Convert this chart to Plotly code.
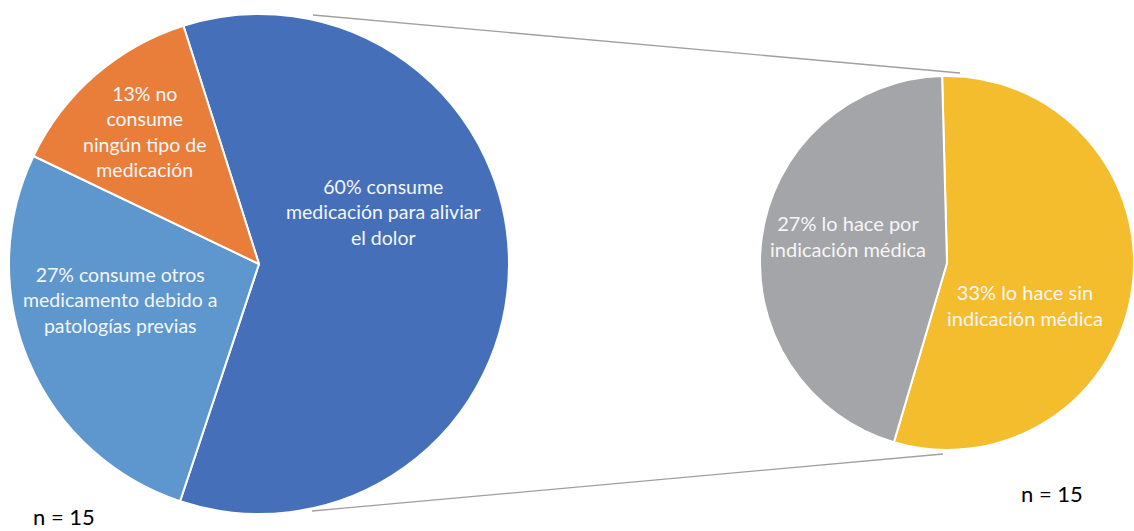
import plotly.graph_objects as go

W, H = 1134, 531

# Main pie data
main_labels = ["consume medicación para aliviar el dolor",
               "consume otros medicamento debido a patologías previas",
               "no consume ningún tipo de medicación"]
main_values = [60, 27, 13]
main_text = ["60% consume<br>medicación para aliviar<br>el dolor",
             "27% consume otros<br>medicamento debido a<br>patologías previas",
             "13% no<br>consume<br>ningún tipo de<br>medicación"]
main_colors = ["#4570B9", "#5E96CE", "#E97E3A"]

# Secondary pie data (breakdown of the 60%)
sub_labels = ["lo hace sin indicación médica", "lo hace por indicación médica"]
sub_values = [33, 27]
sub_text = ["33% lo hace sin<br>indicación médica",
            "27% lo hace por<br>indicación médica"]
sub_colors = ["#F4BD2E", "#A4A5A9"]

n_text = "n = 15"

def px(x):
    return x / W

def py(y):
    return 1 - y / H

fig = go.Figure()

fig.add_trace(go.Pie(
    values=main_values, labels=main_labels, sort=False, direction="clockwise",
    rotation=-17.6, marker=dict(colors=main_colors, line=dict(color="white", width=2)),
    textinfo="none", hoverinfo="label+percent", showlegend=False,
    domain=dict(x=[px(9), px(509)], y=[py(514), py(14)]),
))

fig.add_trace(go.Pie(
    values=sub_values, labels=sub_labels, sort=False, direction="clockwise",
    rotation=-1.5, marker=dict(colors=sub_colors, line=dict(color="white", width=2)),
    textinfo="none", hoverinfo="label+percent", showlegend=False,
    domain=dict(x=[px(760), 1.0], y=[py(451), py(75)]),
))

font_family = "Lato, 'Open Sans', sans-serif"
label_pos = {
    0: (383, 212),
    1: (120, 300),
    2: (145, 131),
}
sub_pos = {
    0: (1025, 305),
    1: (848, 236),
}
annotations = []
for i, t in enumerate(main_text):
    x, y = label_pos[i]
    annotations.append(dict(x=px(x), y=py(y), xref="paper", yref="paper", text=t,
                            showarrow=False, align="center", xanchor="center", yanchor="middle",
                            font=dict(family=font_family, size=19.5, color="#F4F6FA")))
for i, t in enumerate(sub_text):
    x, y = sub_pos[i]
    annotations.append(dict(x=px(x), y=py(y), xref="paper", yref="paper", text=t,
                            showarrow=False, align="center", xanchor="center", yanchor="middle",
                            font=dict(family=font_family, size=20, color="#F6F6F6")))
annotations.append(dict(x=px(64), y=py(516), xref="paper", yref="paper", text=n_text,
                        showarrow=False, xanchor="center", yanchor="middle",
                        font=dict(family="Lato, sans-serif", size=22, color="black")))
annotations.append(dict(x=px(1052), y=py(493), xref="paper", yref="paper", text=n_text,
                        showarrow=False, xanchor="center", yanchor="middle",
                        font=dict(family="Lato, sans-serif", size=22, color="black")))

shapes = [
    dict(type="line", xref="paper", yref="paper", x0=px(313), y0=py(15), x1=px(960), y1=py(73),
         line=dict(color="#A0A0A0", width=1.3)),
    dict(type="line", xref="paper", yref="paper", x0=px(312), y0=py(511), x1=px(943), y1=py(454),
         line=dict(color="#A0A0A0", width=1.3)),
]

fig.update_layout(
    width=W, height=H, margin=dict(l=0, r=0, t=0, b=0),
    paper_bgcolor="white", plot_bgcolor="white",
    annotations=annotations, shapes=shapes, showlegend=False,
)

fig.write_html("out.html")
